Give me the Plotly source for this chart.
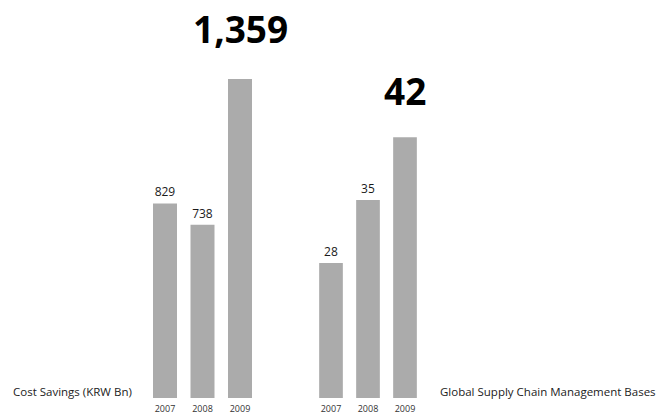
import plotly.graph_objects as go

# Data
years = ["2007", "2008", "2009"]
cost_savings = [829, 738, 1359]          # KRW Bn
scm_bases = [28, 35, 42]                 # number of bases
cost_label = "Cost Savings (KRW Bn)"
scm_label = "Global Supply Chain Management Bases"

W, H = 657, 415
BAR = "#ababab"
TXT = "#1a1a1a"
SMALL_FONT = "Open Sans"
BIG_FONT = "Open Sans"

fig = go.Figure()


def add_group(values, xa, ya, lift):
    small = [f"{v:,}" for v in values[:-1]] + [""]
    fig.add_trace(go.Bar(
        x=years, y=values, xaxis=xa, yaxis=ya,
        marker=dict(color=BAR, line=dict(width=0)),
        width=0.64,
        text=small, textposition="outside", cliponaxis=False,
        textfont=dict(family=SMALL_FONT, size=12, color=TXT),
        hoverinfo="skip", showlegend=False,
    ))
    # latest year value highlighted above its bar (x given as category index)
    fig.add_annotation(
        x=len(years) - 1, y=values[-1], xref=xa, yref=ya,
        text=f"<b>{values[-1]:,}</b>", showarrow=False,
        yanchor="bottom", yshift=lift,
        font=dict(family=BIG_FONT, size=37, color="#000000"),
    )


add_group(cost_savings, "x", "y", 23)
add_group(scm_bases, "x2", "y2", 19)

axis_common = dict(
    type="category", showgrid=False, zeroline=False, showline=False,
    ticks="", ticklabelstandoff=4,
    tickfont=dict(family=SMALL_FONT, size=9, color="#333333"),
)
yaxis_common = dict(showgrid=False, zeroline=False, showline=False,
                    showticklabels=False, domain=[0, 1])

fig.update_layout(
    width=W, height=H,
    margin=dict(l=0, r=0, t=40, b=17),
    paper_bgcolor="white", plot_bgcolor="white",
    bargap=0.36,
    xaxis=dict(domain=[146.25 / W, 258.75 / W], anchor="y",
               range=[-0.5, 2.5], **axis_common),
    yaxis=dict(range=[0, 1525], anchor="x", **yaxis_common),
    xaxis2=dict(domain=[312.5 / W, 423.5 / W], anchor="y2",
                range=[-0.5, 2.5], **axis_common),
    yaxis2=dict(range=[13, 52.8], anchor="x2", **yaxis_common),
)

# group captions at the base line
for label, px in ((cost_label, 11), (scm_label, 438)):
    fig.add_annotation(x=px / W, y=(398 - 391) / 358, xref="paper",
                       yref="paper", text=label, showarrow=False,
                       xanchor="left", yanchor="middle",
                       font=dict(family=SMALL_FONT, size=11.5,
                                 color="#222222"))

fig.write_html("out.html")
